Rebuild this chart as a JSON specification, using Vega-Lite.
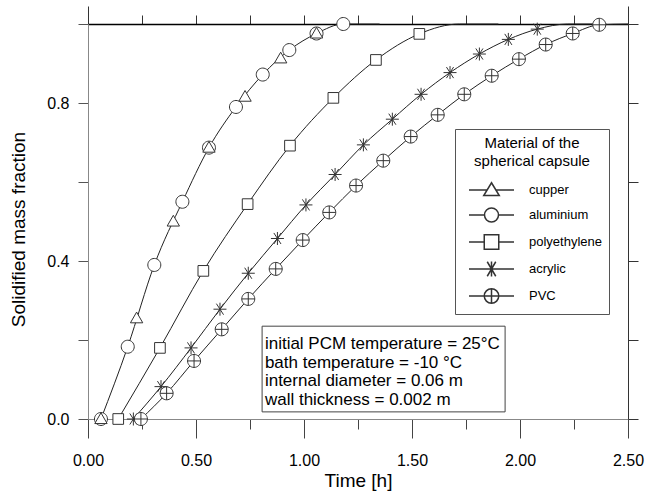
{
  "$schema": "https://vega.github.io/schema/vega-lite/v6.json",
  "width": 540,
  "height": 395,
  "autosize": "none",
  "padding": {"left": 88, "top": 24, "right": 17, "bottom": 73},
  "config": {"font": "Liberation Sans", "view": {"stroke": null}, "axis": {"grid": false}},
  "datasets": {
    "markers": [
      {"material": "aluminium", "t": 0.06, "f": 0.0},
      {"material": "aluminium", "t": 0.184, "f": 0.183},
      {"material": "aluminium", "t": 0.307, "f": 0.39},
      {"material": "aluminium", "t": 0.437, "f": 0.55},
      {"material": "aluminium", "t": 0.56, "f": 0.687},
      {"material": "aluminium", "t": 0.685, "f": 0.79},
      {"material": "aluminium", "t": 0.809, "f": 0.872},
      {"material": "aluminium", "t": 0.932, "f": 0.934},
      {"material": "aluminium", "t": 1.058, "f": 0.976},
      {"material": "aluminium", "t": 1.182, "f": 1.0},
      {"material": "cupper", "t": 0.06, "f": 0.0},
      {"material": "cupper", "t": 0.225, "f": 0.255},
      {"material": "cupper", "t": 0.395, "f": 0.5},
      {"material": "cupper", "t": 0.56, "f": 0.687},
      {"material": "cupper", "t": 0.727, "f": 0.816},
      {"material": "cupper", "t": 0.892, "f": 0.913},
      {"material": "cupper", "t": 1.058, "f": 0.976},
      {"material": "polyethylene", "t": 0.14, "f": 0.0},
      {"material": "polyethylene", "t": 0.333, "f": 0.18},
      {"material": "polyethylene", "t": 0.534, "f": 0.375},
      {"material": "polyethylene", "t": 0.739, "f": 0.544},
      {"material": "polyethylene", "t": 0.935, "f": 0.692},
      {"material": "polyethylene", "t": 1.136, "f": 0.813},
      {"material": "polyethylene", "t": 1.333, "f": 0.909},
      {"material": "polyethylene", "t": 1.534, "f": 0.975},
      {"material": "acrylic", "t": 0.21, "f": 0.0},
      {"material": "acrylic", "t": 0.338, "f": 0.082},
      {"material": "acrylic", "t": 0.477, "f": 0.18},
      {"material": "acrylic", "t": 0.611, "f": 0.278},
      {"material": "acrylic", "t": 0.742, "f": 0.369},
      {"material": "acrylic", "t": 0.877, "f": 0.457},
      {"material": "acrylic", "t": 1.009, "f": 0.542},
      {"material": "acrylic", "t": 1.144, "f": 0.619},
      {"material": "acrylic", "t": 1.275, "f": 0.694},
      {"material": "acrylic", "t": 1.409, "f": 0.759},
      {"material": "acrylic", "t": 1.542, "f": 0.822},
      {"material": "acrylic", "t": 1.676, "f": 0.877},
      {"material": "acrylic", "t": 1.812, "f": 0.924},
      {"material": "acrylic", "t": 1.946, "f": 0.961},
      {"material": "acrylic", "t": 2.08, "f": 0.987},
      {"material": "PVC", "t": 0.245, "f": 0.0},
      {"material": "PVC", "t": 0.364, "f": 0.065},
      {"material": "PVC", "t": 0.491, "f": 0.147},
      {"material": "PVC", "t": 0.619, "f": 0.227},
      {"material": "PVC", "t": 0.742, "f": 0.304},
      {"material": "PVC", "t": 0.869, "f": 0.38},
      {"material": "PVC", "t": 0.994, "f": 0.453},
      {"material": "PVC", "t": 1.117, "f": 0.523},
      {"material": "PVC", "t": 1.241, "f": 0.591},
      {"material": "PVC", "t": 1.367, "f": 0.654},
      {"material": "PVC", "t": 1.494, "f": 0.715},
      {"material": "PVC", "t": 1.619, "f": 0.77},
      {"material": "PVC", "t": 1.742, "f": 0.822},
      {"material": "PVC", "t": 1.869, "f": 0.869},
      {"material": "PVC", "t": 1.995, "f": 0.911},
      {"material": "PVC", "t": 2.119, "f": 0.948},
      {"material": "PVC", "t": 2.244, "f": 0.976},
      {"material": "PVC", "t": 2.367, "f": 0.998}
    ],
    "curves": [
      {"material": "aluminium", "t": 0.06, "f": 0.0},
      {"material": "aluminium", "t": 0.184, "f": 0.183},
      {"material": "aluminium", "t": 0.307, "f": 0.39},
      {"material": "aluminium", "t": 0.437, "f": 0.55},
      {"material": "aluminium", "t": 0.56, "f": 0.687},
      {"material": "aluminium", "t": 0.685, "f": 0.79},
      {"material": "aluminium", "t": 0.809, "f": 0.872},
      {"material": "aluminium", "t": 0.932, "f": 0.934},
      {"material": "aluminium", "t": 1.058, "f": 0.976},
      {"material": "aluminium", "t": 1.182, "f": 1.0},
      {"material": "aluminium", "t": 1.35, "f": 1.0},
      {"material": "polyethylene", "t": 0.14, "f": 0.0},
      {"material": "polyethylene", "t": 0.333, "f": 0.18},
      {"material": "polyethylene", "t": 0.534, "f": 0.375},
      {"material": "polyethylene", "t": 0.739, "f": 0.544},
      {"material": "polyethylene", "t": 0.935, "f": 0.692},
      {"material": "polyethylene", "t": 1.136, "f": 0.813},
      {"material": "polyethylene", "t": 1.333, "f": 0.909},
      {"material": "polyethylene", "t": 1.534, "f": 0.975},
      {"material": "polyethylene", "t": 1.72, "f": 1.0},
      {"material": "polyethylene", "t": 1.9, "f": 1.0},
      {"material": "acrylic", "t": 0.21, "f": 0.0},
      {"material": "acrylic", "t": 0.338, "f": 0.082},
      {"material": "acrylic", "t": 0.477, "f": 0.18},
      {"material": "acrylic", "t": 0.611, "f": 0.278},
      {"material": "acrylic", "t": 0.742, "f": 0.369},
      {"material": "acrylic", "t": 0.877, "f": 0.457},
      {"material": "acrylic", "t": 1.009, "f": 0.542},
      {"material": "acrylic", "t": 1.144, "f": 0.619},
      {"material": "acrylic", "t": 1.275, "f": 0.694},
      {"material": "acrylic", "t": 1.409, "f": 0.759},
      {"material": "acrylic", "t": 1.542, "f": 0.822},
      {"material": "acrylic", "t": 1.676, "f": 0.877},
      {"material": "acrylic", "t": 1.812, "f": 0.924},
      {"material": "acrylic", "t": 1.946, "f": 0.961},
      {"material": "acrylic", "t": 2.08, "f": 0.987},
      {"material": "acrylic", "t": 2.22, "f": 1.0},
      {"material": "acrylic", "t": 2.4, "f": 1.0},
      {"material": "PVC", "t": 0.245, "f": 0.0},
      {"material": "PVC", "t": 0.364, "f": 0.065},
      {"material": "PVC", "t": 0.491, "f": 0.147},
      {"material": "PVC", "t": 0.619, "f": 0.227},
      {"material": "PVC", "t": 0.742, "f": 0.304},
      {"material": "PVC", "t": 0.869, "f": 0.38},
      {"material": "PVC", "t": 0.994, "f": 0.453},
      {"material": "PVC", "t": 1.117, "f": 0.523},
      {"material": "PVC", "t": 1.241, "f": 0.591},
      {"material": "PVC", "t": 1.367, "f": 0.654},
      {"material": "PVC", "t": 1.494, "f": 0.715},
      {"material": "PVC", "t": 1.619, "f": 0.77},
      {"material": "PVC", "t": 1.742, "f": 0.822},
      {"material": "PVC", "t": 1.869, "f": 0.869},
      {"material": "PVC", "t": 1.995, "f": 0.911},
      {"material": "PVC", "t": 2.119, "f": 0.948},
      {"material": "PVC", "t": 2.244, "f": 0.976},
      {"material": "PVC", "t": 2.367, "f": 0.998},
      {"material": "PVC", "t": 2.5, "f": 1.0}
    ],
    "note": [
      {"x0": 0.806, "x1": 1.931, "y0": 0.018, "y1": 0.235, "tx": 0.819, "ty": 0.21,
       "label": "initial PCM temperature = 25°C\nbath temperature = -10 °C\ninternal diameter = 0.06 m\nwall thickness = 0.002 m"}
    ]
  },
  "layer": [
    {
      "data": {"name": "curves"},
      "mark": {"type": "line", "interpolate": "monotone", "color": "#222", "strokeWidth": 1},
      "encoding": {
        "x": {
          "field": "t", "type": "quantitative",
          "scale": {"domain": [0, 2.5], "nice": false, "zero": false},
          "axis": {
            "orient": "bottom",
            "title": "Time [h]",
            "values": [0, 0.25, 0.5, 0.75, 1, 1.25, 1.5, 1.75, 2, 2.25, 2.5],
            "labelExpr": "datum.value % 0.5 === 0 ? format(datum.value, '.2f') : ''",
            "tickSize": {"condition": {"test": "datum.value % 0.5 === 0", "value": 19}, "value": 10},
            "tickColor": "#444",
            "domainColor": "#888",
            "labelFontSize": 16, "labelColor": "#000", "labelPadding": 14,
            "labelFlush": false, "labelOverlap": false,
            "titleFontSize": 19, "titleFontWeight": 400, "titleColor": "#000",
            "titlePadding": 3
          }
        },
        "y": {
          "field": "f", "type": "quantitative",
          "scale": {"domain": [0, 1], "nice": false, "zero": false},
          "axis": {
            "orient": "left",
            "title": "Solidified mass fraction",
            "values": [0, 0.2, 0.4, 0.6, 0.8, 1.0],
            "labelExpr": "(datum.value === 0 || abs(datum.value - 0.4) < 0.001 || abs(datum.value - 0.8) < 0.001) ? format(datum.value, '.1f') : ''",
            "tickSize": 10,
            "tickColor": "#555",
            "domainColor": "#888",
            "labelFontSize": 16, "labelColor": "#000", "labelPadding": 9,
            "labelFlush": false, "labelOverlap": false,
            "titleFontSize": 19, "titleFontWeight": 400, "titleColor": "#000",
            "titlePadding": 18, "titleY": 205
          }
        },
        "detail": {"field": "material", "type": "nominal"}
      }
    },
    {
      "data": {"name": "markers"},
      "mark": {"type": "point", "filled": true, "fill": "white", "stroke": "#333", "strokeWidth": 1, "opacity": 1, "size": 169},
      "encoding": {
        "x": {
          "field": "t", "type": "quantitative",
          "axis": {
            "orient": "top", "title": null, "labels": false,
            "values": [0, 0.25, 0.5, 0.75, 1, 1.25, 1.5, 1.75, 2, 2.25, 2.5],
            "tickSize": {"condition": {"test": "datum.value === 0 || datum.value === 2.5", "value": 18}, "value": 9},
            "tickColor": "#333", "domainColor": "#000", "domainWidth": 1.5
          }
        },
        "y": {
          "field": "f", "type": "quantitative",
          "axis": {
            "orient": "right", "title": null, "labels": false,
            "values": [0, 0.2, 0.4, 0.6, 0.8, 1.0],
            "tickSize": 10, "tickColor": "#333", "domainColor": "#333"
          }
        },
        "shape": {
          "field": "material", "type": "nominal",
          "scale": {
            "domain": ["cupper", "aluminium", "polyethylene", "acrylic", "PVC"],
            "range": [
              "M0,-0.95L0.95,0.7L-0.95,0.7Z",
              "M1,0A1,1,0,1,1,-1,0A1,1,0,1,1,1,0Z",
              "M-0.82,-0.82L0.82,-0.82L0.82,0.82L-0.82,0.82Z",
              "M-1,0L1,0M0,-1L0,1M-0.55,-0.85L0.55,0.85M-0.55,0.85L0.55,-0.85",
              "M1,0A1,1,0,1,1,-1,0A1,1,0,1,1,1,0ZM-1,0L1,0M0,-1L0,1"
            ]
          },
          "legend": null
        }
      }
    },
    {
      "data": {"name": "markers"},
      "transform": [{"filter": "false"}],
      "mark": {"type": "point", "filled": true, "fill": "white", "stroke": "#333", "strokeWidth": 1, "opacity": 1},
      "encoding": {
        "x": {"field": "t", "type": "quantitative", "axis": null},
        "y": {"field": "f", "type": "quantitative", "axis": null},
        "shape": {
          "field": "material", "type": "nominal",
          "scale": {
            "domain": ["cupper", "aluminium", "polyethylene", "acrylic", "PVC"],
            "range": [
              "M-4.5,0L-0.88,0M0.88,0L4.5,0M0,-1.45L1.55,1.1L-1.55,1.1Z",
              "M-4.5,0L-1.4,0M1.4,0L4.5,0M1.4,0A1.4,1.4,0,1,1,-1.4,0A1.4,1.4,0,1,1,1.4,0Z",
              "M-4.5,0L-1.45,0M1.45,0L4.5,0M-1.45,-1.45L1.45,-1.45L1.45,1.45L-1.45,1.45Z",
              "M-4.5,0L4.5,0M0,-1.5L0,1.5M-0.85,-1.45L0.85,1.45M-0.85,1.45L0.85,-1.45",
              "M-4.5,0L-1.45,0M1.45,0L4.5,0M1.45,0A1.45,1.45,0,1,1,-1.45,0A1.45,1.45,0,1,1,1.45,0ZM-1.45,0L1.45,0M0,-1.45L0,1.45"
            ]
          },
          "legend": {
            "orient": "none", "legendX": 367, "legendY": 105,
            "title": ["Material of the", "spherical capsule"],
            "titleFontSize": 15, "titleFontWeight": 400, "titleColor": "#000",
            "titleAnchor": "middle", "titleAlign": "center", "titleLineHeight": 17.5,
            "titlePadding": 15,
            "labelFontSize": 13, "labelColor": "#000", "labelOffset": 31,
            "symbolOffset": 23,
            "rowPadding": 6, "padding": 7,
            "strokeColor": "#555", "fillColor": "white"
          }
        }
      }
    },
    {
      "data": {"name": "note"},
      "mark": {"type": "rect", "fill": "white", "stroke": "#444", "strokeWidth": 1},
      "encoding": {
        "x": {"field": "x0", "type": "quantitative", "axis": null},
        "x2": {"field": "x1"},
        "y": {"field": "y0", "type": "quantitative", "axis": null},
        "y2": {"field": "y1"}
      }
    },
    {
      "data": {"name": "note"},
      "mark": {"type": "text", "align": "left", "baseline": "top", "fontSize": 17, "lineHeight": 18.5, "lineBreak": "\n", "color": "#000"},
      "encoding": {
        "x": {"field": "tx", "type": "quantitative", "axis": null},
        "y": {"field": "ty", "type": "quantitative", "axis": null},
        "text": {"field": "label", "type": "nominal"}
      }
    }
  ],
  "resolve": {
    "axis": {"x": "independent", "y": "independent"},
    "scale": {"shape": "independent"},
    "legend": {"shape": "independent"}
  }
}
